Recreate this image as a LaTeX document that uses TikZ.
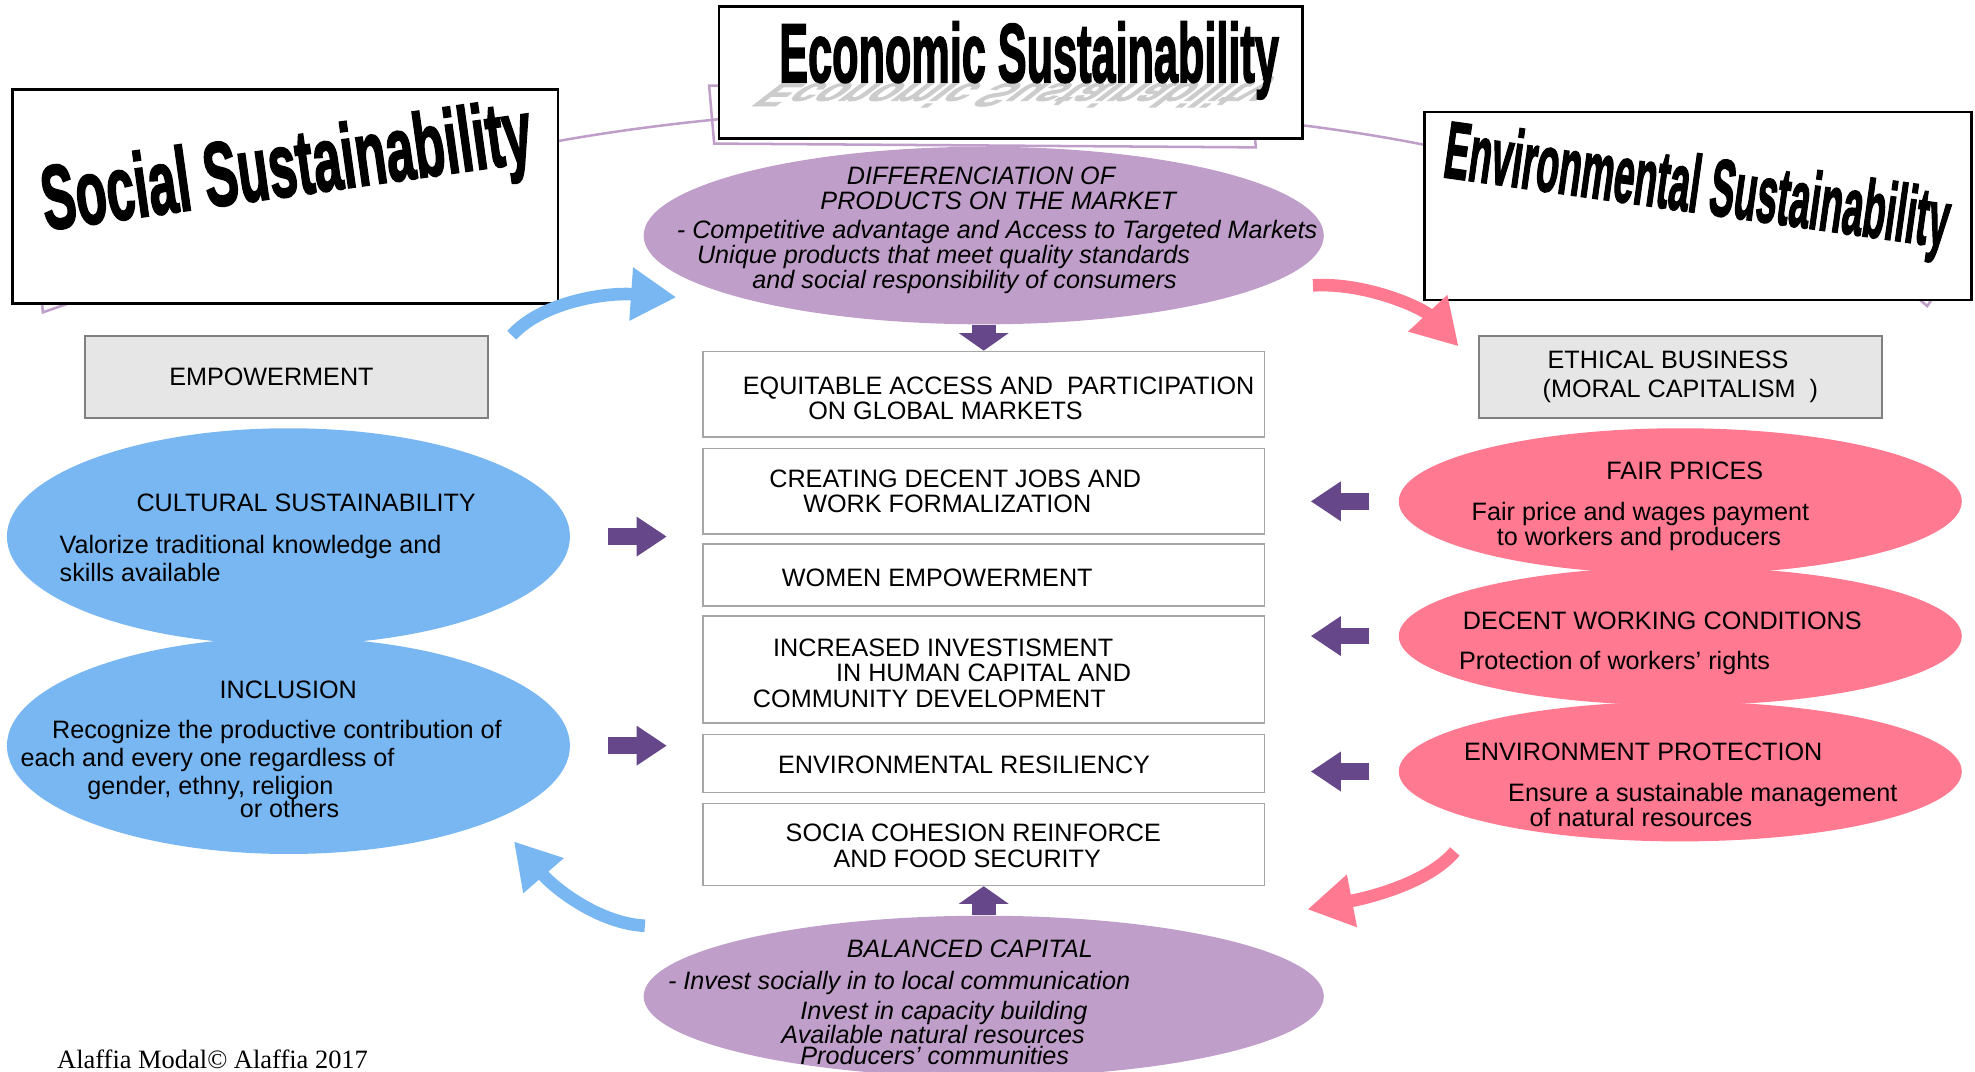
\documentclass[tikz,border=0pt]{standalone}
\usepackage{fontspec}
\setmainfont{Liberation Sans}
\newfontfamily\heavyfont{Liberation Sans}[BoldFeatures={FakeBold=2.5}]
\newfontfamily\creditfont{Liberation Serif}
\usetikzlibrary{shapes.geometric,arrows.meta}

\definecolor{lavender}{HTML}{BF9FC9}
\definecolor{darkpurple}{HTML}{66478A}
\definecolor{skyblue}{HTML}{79B7F3}
\definecolor{rosepink}{HTML}{FF7991}
\definecolor{boxgray}{HTML}{E6E6E6}

\newcommand*{\tightsize}{\fontsize{10}{10}\selectfont}

\begin{document}
\begin{tikzpicture}
[
	x=0.5pt, y=-0.5pt,
	titlebox/.style={draw=black,line width=1pt,fill=white,inner sep=0pt},
	titletext/.style={inner sep=0pt,transform shape},
	graybox/.style={draw=black!50,line width=0.8pt,fill=boxgray,minimum width=160pt,minimum height=32.5pt,inner sep=0pt,font=\tightsize,align=left},
	goalbox/.style={draw=black!35,line width=0.6pt,fill=white,minimum width=223pt,inner sep=0pt},
	words/.style={anchor=west,inner sep=0pt,font=\tightsize,align=left},
	pillar/.style={ellipse,inner sep=0pt,minimum width=223.5pt},
	capital/.style={ellipse,inner sep=0pt,fill=lavender,minimum width=270pt},
	sidearrow/.style={darkpurple,line width=6.5pt,-{Triangle[length=12pt,width=15pt]}},
	vertarrow/.style={darkpurple,line width=9.5pt,-{Triangle[length=7pt,width=19.5pt]}},
	bluecurve/.style={skyblue,line width=5pt,-{Triangle[length=18pt,width=20pt]}},
	pinkcurve/.style={rosepink,line width=5pt,-{Triangle[length=18pt,width=20pt]}},
	lavline/.style={lavender,line width=1pt}
]

	\useasboundingbox (0,0) rectangle (1568,851);

	% ring behind the three titles
	\draw[lavline] (443,112) .. controls (650,75) and (930,75) .. (1131,115);
	\draw[lavline] (563,68) -- (567,114) -- (997,117) -- (993,68) -- cycle;
	\draw[lavline] (30,200) -- (34,248) -- (120,218);
	\draw[lavline] (1480,200) -- (1530,243) -- (1560,200);

	% titles
	\node[titlebox,minimum width=216.5pt,minimum height=85pt] (socbox) at (226.5,156) {};
	\node[titletext,rotate=8,xscale=0.56,font=\heavyfont\bfseries\fontsize{36}{36}\selectfont] (soctitle) at (228,137) {Social Sustainability};

	\node[titlebox,minimum width=231.5pt,minimum height=52.5pt] (ecobox) at (802.5,57.5) {};
	\node[titletext,anchor=base,xslant=1.3,yscale=-0.4,xscale=0.52,text=black!20,font=\heavyfont\bfseries\fontsize{33}{33}\selectfont] (ecoshadow) at (817,66) {Economic Sustainability};
	\node[titletext,anchor=base,xscale=0.52,font=\heavyfont\bfseries\fontsize{33}{33}\selectfont] (ecotitle) at (817,65) {Economic Sustainability};

	\node[titlebox,minimum width=217pt,minimum height=74.5pt] (envbox) at (1348,163.5) {};
	\node[titletext,rotate=-8,xscale=0.46,font=\heavyfont\bfseries\fontsize{32}{32}\selectfont] (envtitle) at (1347,152) {Environmental Sustainability};

	% economic ellipses
	\node[capital,minimum height=70.5pt] (diff) at (781,187) {};
	\node[capital,minimum height=64pt] (bal) at (781,791) {};
	\node[words,font=\tightsize\itshape] (difftxt) at (537,183) {\hspace*{67.5pt}DIFFERENCIATION OF\\\hspace*{57pt}PRODUCTS ON THE MARKET\\[1.5pt]- Competitive advantage and Access to Targeted Markets\\\hspace*{8pt}Unique products that meet quality standards\\\hspace*{30pt}and social responsibility of consumers};
	\node[words,font=\tightsize\itshape] (baltxt) at (530,796) {\hspace*{71pt}BALANCED CAPITAL\\[2.5pt]- Invest socially in to local communication\\[2pt]\hspace*{52.5pt}Invest in capacity building\\[-0.5pt]\hspace*{45pt}Available natural resources\\[-1.5pt]\hspace*{52.5pt}Producers’ communities};

	% social side
	\node[graybox] (empower) at (227.5,299.5) {EMPOWERMENT\hspace*{12pt}};
	\node[pillar,fill=skyblue,minimum height=86pt] (cult) at (229,426) {};
	\node[pillar,fill=skyblue,minimum height=86pt] (incl) at (229,592) {};
	\node[words] (culttxt) at (47,427) {\hspace*{30.5pt}CULTURAL SUSTAINABILITY\\[6.5pt]Valorize traditional knowledge and\\[1pt]skills available};
	\node[words] (incltxt) at (16,595) {\hspace*{79pt}INCLUSION\\[6pt]\hspace*{12.5pt}Recognize the productive contribution of\\[1pt]each and every one regardless of\\[1pt]\hspace*{26.5pt}gender, ethny, religion\\[-0.5pt]\hspace*{87pt}or others};

	% environmental side
	\node[graybox] (ethic) at (1334,299.5) {\hspace*{2pt}ETHICAL BUSINESS\\[1.5pt](MORAL CAPITALISM~ )};
	\node[pillar,fill=rosepink,minimum height=58pt] (fair) at (1334,398) {};
	\node[pillar,fill=rosepink,minimum height=55pt] (decent) at (1334,505) {};
	\node[pillar,fill=rosepink,minimum height=55.5pt] (envp) at (1334,612.5) {};
	\node[words] (fairtxt) at (1168,402) {\hspace*{53.5pt}FAIR PRICES\\[6pt]Fair price and wages payment\\\hspace*{10pt}to workers and producers};
	\node[words] (decenttxt) at (1158,511) {\hspace*{1.5pt}DECENT WORKING CONDITIONS\\[6pt]Protection of workers’ rights};
	\node[words] (envptxt) at (1162,623) {ENVIRONMENT PROTECTION\\[6.5pt]\hspace*{17.5pt}Ensure a sustainable management\\\hspace*{26pt}of natural resources};

	% outcomes
	\node[goalbox,minimum height=34pt] (access) at (781,313) {};
	\node[goalbox,minimum height=34pt] (jobs) at (781,390) {};
	\node[goalbox,minimum height=24.5pt] (women) at (781,456.5) {};
	\node[goalbox,minimum height=42.5pt] (invest) at (781,531.5) {};
	\node[goalbox,minimum height=23pt] (resil) at (781,606) {};
	\node[goalbox,minimum height=32.5pt] (cohesion) at (781,670.5) {};

	\node[words] (accesstxt) at ([xshift=16pt,yshift=-1.5pt]access.west) {EQUITABLE ACCESS AND\ \ PARTICIPATION\\\hspace*{26pt}ON GLOBAL MARKETS};
	\node[words] (jobstxt) at ([xshift=26.5pt]jobs.west) {CREATING DECENT JOBS AND\\\hspace*{13.5pt}WORK FORMALIZATION};
	\node[words] (womentxt) at ([xshift=31.5pt,yshift=-1pt]women.west) {WOMEN EMPOWERMENT};
	\node[words] (investtxt) at ([xshift=20pt,yshift=-1.5pt]invest.west) {\hspace*{8pt}INCREASED INVESTISMENT\\\hspace*{33pt}IN HUMAN CAPITAL AND\\COMMUNITY DEVELOPMENT};
	\node[words] (resiltxt) at ([xshift=30pt,yshift=-0.5pt]resil.west) {ENVIRONMENTAL RESILIENCY};
	\node[words] (cohesiontxt) at ([xshift=33pt,yshift=-0.5pt]cohesion.west) {SOCIA COHESION REINFORCE\\\hspace*{19pt}AND FOOD SECURITY};

	% block arrows
	\draw[vertarrow] (diff.south) -- (access.north);
	\draw[vertarrow] (bal.north) -- (cohesion.south);
	\draw[sidearrow,shorten <=15pt,shorten >=14pt] (cult.east) -- (cult.east -| jobs.west);
	\draw[sidearrow,shorten <=15pt,shorten >=14pt] (incl.east) -- (incl.east -| resil.west);
	\draw[sidearrow,shorten <=11.75pt,shorten >=18pt] (fair.west) -- (fair.west -| jobs.east);
	\draw[sidearrow,shorten <=11.75pt,shorten >=18pt] (decent.west) -- (decent.west -| invest.east);
	\draw[sidearrow,shorten <=11.75pt,shorten >=18pt] (envp.west) -- (envp.west -| resil.east);

	% cycle arrows
	\coordinate (diffin) at (537,236);
	\coordinate (ethicin) at (1158,275);
	\coordinate (envpout) at (1155,676);
	\coordinate (pinkend) at (1038,722);
	\coordinate (balout) at (512,735);
	\coordinate (inclin) at (408,668);

	\draw[bluecurve] ([xshift=9pt]empower.north east) .. controls (430,240) and (480,232) .. (diffin);
	\draw[pinkcurve] ([xshift=18.5pt]diff.-10) .. controls (1085,224) and (1130,245) .. (ethicin);
	\draw[pinkcurve] (envpout) .. controls (1135,700) and (1090,712) .. (pinkend);
	\draw[bluecurve] (balout) .. controls (475,733) and (440,705) .. (inclin);

	\node[anchor=base west,inner sep=0pt,font=\creditfont\fontsize{10.5}{10.5}\selectfont] (credit) at (45,848) {Alaffia Modal© Alaffia 2017};

\end{tikzpicture}
\end{document}
